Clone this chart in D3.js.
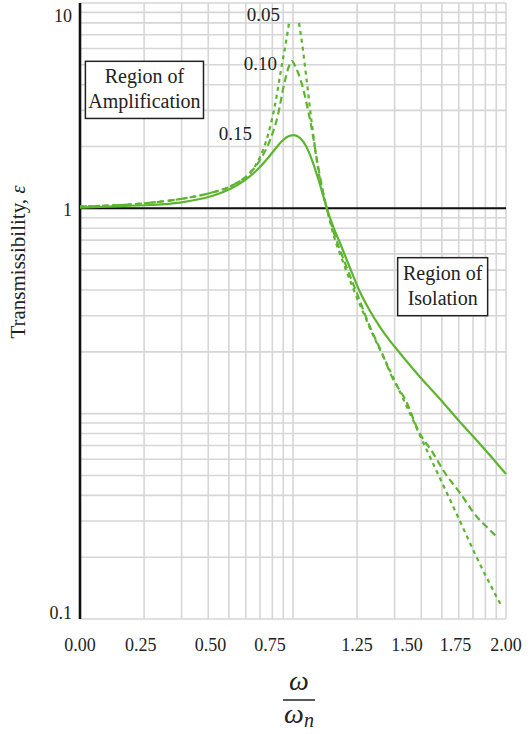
<!DOCTYPE html>
<html>
<head>
<meta charset="utf-8">
<script src="https://cdn.jsdelivr.net/npm/d3@7"></script>
<style>
  html, body { margin: 0; padding: 0; background: #fff; }
  svg { display: block; }
  text { font-family: "Liberation Serif", "Times New Roman", serif; fill: #222; }
</style>
</head>
<body>
<svg id="chart" width="531" height="734"></svg>
<script>
// ---------------- data ----------------
// frequency ratio (log axis) and transmissibility (log axis)
const zeta15X = [0.1, 0.154, 0.213, 0.295, 0.366, 0.43, 0.506, 0.595, 0.685, 0.763, 0.832, 0.898, 0.958, 1.011, 1.079, 1.151, 1.228, 1.31, 1.383, 1.444, 1.541, 1.662, 1.852, 2.064, 2.299, 2.562, 2.854, 3.179, 3.946, 4.898, 6.081, 7.548, 9.371, 10];
const zeta15Y = [1.009, 1.026, 1.038, 1.067, 1.11, 1.161, 1.242, 1.373, 1.554, 1.758, 1.967, 2.151, 2.25, 2.275, 2.2, 2.011, 1.719, 1.405, 1.161, 0.992, 0.82, 0.678, 0.512, 0.391, 0.316, 0.264, 0.226, 0.197, 0.151, 0.118, 0.091, 0.0711, 0.055, 0.0508];

const zeta10X = [0.1, 0.206, 0.305, 0.408, 0.523, 0.628, 0.7, 0.78, 0.85, 0.907, 0.958, 0.989, 1.033, 1.079, 1.126, 1.176, 1.228, 1.296, 1.368, 1.444, 1.541, 1.755, 1.994, 2.299, 2.617, 2.917, 3.429, 3.863, 4.543, 5.171, 6.081, 7.307, 8.232, 9.171];
const zeta10Y = [1.02, 1.061, 1.116, 1.187, 1.299, 1.486, 1.719, 2.151, 2.848, 3.986, 4.932, 5.216, 4.82, 4.31, 3.686, 3.012, 2.407, 1.719, 1.274, 0.992, 0.784, 0.5414, 0.3868, 0.2642, 0.1973, 0.1509, 0.1127, 0.0832, 0.0643, 0.0514, 0.0411, 0.0314, 0.0277, 0.0248];

const zeta05X = [0.1, 0.206, 0.305, 0.408, 0.523, 0.628, 0.7, 0.763, 0.823, 0.878, 0.927, 0.958, 1.0, 1.067, 1.114, 1.151, 1.189, 1.228, 1.282, 1.354, 1.444, 1.541, 1.717, 1.913, 2.132, 2.375, 2.704, 3.179, 3.62, 4.076, 4.745, 5.578, 6.419, 7.307, 8.41, 9.576];
const zeta05Y = [1.02, 1.061, 1.116, 1.187, 1.299, 1.486, 1.778, 2.275, 3.185, 4.717, 6.45, 7.99, null, 7.99, 5.9, 4.46, 3.37, 2.545, 1.818, 1.298, 0.992, 0.758, 0.548, 0.409, 0.3126, 0.2415, 0.1825, 0.1274, 0.0953, 0.0728, 0.052, 0.0363, 0.0265, 0.0198, 0.0148, 0.01143];

const seriesNames = ["0.15", "0.10", "0.05"];

// tick labels (as printed on the figure) and where they sit on the axes
const xTickLabels = ["0.00", "0.25", "0.50", "0.75", "1.25", "1.50", "1.75", "2.00"];
const xTickAt = [0.1, 0.193, 0.41, 0.78, 2, 3.43, 5.8, 10];
const yTickLabels = ["10", "1", "0.1"];
const yTickAt = [8.64, 0.985, 0.0107];

// curve label positions (data units, right edge / baseline)
const labelX = [0.642, 0.841, 0.869];  // for 0.15, 0.10, 0.05
const labelY = [2.15, 4.72, 8.17];

const regionLabels = [["Region of", "Amplification"], ["Region of", "Isolation"]];

// ---------------- layout ----------------
const svg = d3.select("#chart");
const L = 80, R = 506, T = 3, B = 619;
const x = d3.scaleLog().domain([0.1, 10]).range([L, R]);
const y = d3.scaleLog().domain([0.01, 10]).range([B, T]);

const green = "#5db52f";
const gridColor = "#d6d6d6";

// grid
const xGrid = [];
[0.1, 1].forEach(dec => { for (let k = 1; k <= 9; k++) xGrid.push(dec * k); });
xGrid.push(10);
const yGrid = [];
[0.01, 0.1, 1].forEach(dec => { for (let k = 1; k <= 9; k++) yGrid.push(dec * k); });
yGrid.push(10);

const g = svg.append("g");
g.selectAll("line.vg").data(xGrid).join("line")
  .attr("x1", d => x(d)).attr("x2", d => x(d))
  .attr("y1", T).attr("y2", B)
  .attr("stroke", gridColor).attr("stroke-width", 1.6);
g.selectAll("line.hg").data(yGrid).join("line")
  .attr("x1", L).attr("x2", R)
  .attr("y1", d => y(d)).attr("y2", d => y(d))
  .attr("stroke", gridColor).attr("stroke-width", 1.6);

// unity line and y axis
g.append("line").attr("x1", L).attr("x2", R).attr("y1", y(1)).attr("y2", y(1))
  .attr("stroke", "#111").attr("stroke-width", 2);
g.append("line").attr("x1", L).attr("x2", L).attr("y1", T).attr("y2", B)
  .attr("stroke", "#111").attr("stroke-width", 2.6);

// region boxes
const boxes = [
  {x0: 0.106, x1: 0.38, y0: 5.2, y1: 2.74, lines: regionLabels[0]},
  {x0: 3.1, x1: 8.2, y0: 0.575, y1: 0.3, lines: regionLabels[1]}
];
boxes.forEach(b => {
  const bx = x(b.x0), bw = x(b.x1) - x(b.x0), by = y(b.y0), bh = y(b.y1) - y(b.y0);
  g.append("rect").attr("x", bx).attr("y", by).attr("width", bw).attr("height", bh)
    .attr("fill", "#fff").attr("stroke", "#222").attr("stroke-width", 1.5);
  b.lines.forEach((t, i) => {
    g.append("text").attr("x", bx + bw / 2).attr("y", by + 22 + i * 25)
      .attr("text-anchor", "middle").attr("font-size", 20).text(t);
  });
});

// curves
const line = d3.line()
  .defined(d => d[1] != null)
  .x(d => x(d[0])).y(d => y(d[1]))
  .curve(d3.curveMonotoneX);

const series = [
  {xs: zeta15X, ys: zeta15Y, dash: null},
  {xs: zeta10X, ys: zeta10Y, dash: "7,4"},
  {xs: zeta05X, ys: zeta05Y, dash: "4,4"}
];
series.forEach(s => {
  const pts = s.xs.map((v, i) => [v, s.ys[i]]);
  g.append("path").attr("d", line(pts))
    .attr("fill", "none").attr("stroke", green).attr("stroke-width", 2.2)
    .attr("stroke-dasharray", s.dash);
});

// curve labels
seriesNames.forEach((name, i) => {
  g.append("text").attr("x", x(labelX[i])).attr("y", y(labelY[i]))
    .attr("text-anchor", "end").attr("font-size", 19).text(name);
});

// x tick labels
g.selectAll("text.xt").data(xTickLabels).join("text")
  .attr("x", (d, i) => x(xTickAt[i])).attr("y", 651)
  .attr("text-anchor", "middle").attr("font-size", 18).text(d => d);

// y tick labels
g.selectAll("text.yt").data(yTickLabels).join("text")
  .attr("x", 72).attr("y", (d, i) => y(yTickAt[i]))
  .attr("dy", "0.35em")
  .attr("text-anchor", "end").attr("font-size", 18).text(d => d);

// y axis title
const yt = g.append("text").attr("transform", "translate(25,262) rotate(-90)")
  .attr("text-anchor", "middle").attr("font-size", 21);
yt.append("tspan").text("Transmissibility, ");
yt.append("tspan").attr("font-style", "italic").text("ε");

// x axis title (fraction)
const cx = 299;
g.append("text").attr("x", cx).attr("y", 690).attr("text-anchor", "middle")
  .attr("font-size", 28).attr("font-style", "italic").text("ω");
g.append("line").attr("x1", cx - 16).attr("x2", cx + 16).attr("y1", 700).attr("y2", 700)
  .attr("stroke", "#222").attr("stroke-width", 1.5);
const wn = g.append("text").attr("x", cx).attr("y", 723).attr("text-anchor", "middle")
  .attr("font-size", 28).attr("font-style", "italic");
wn.append("tspan").text("ω");
wn.append("tspan").attr("font-size", 20).attr("dy", 4).text("n");
</script>
</body>
</html>
